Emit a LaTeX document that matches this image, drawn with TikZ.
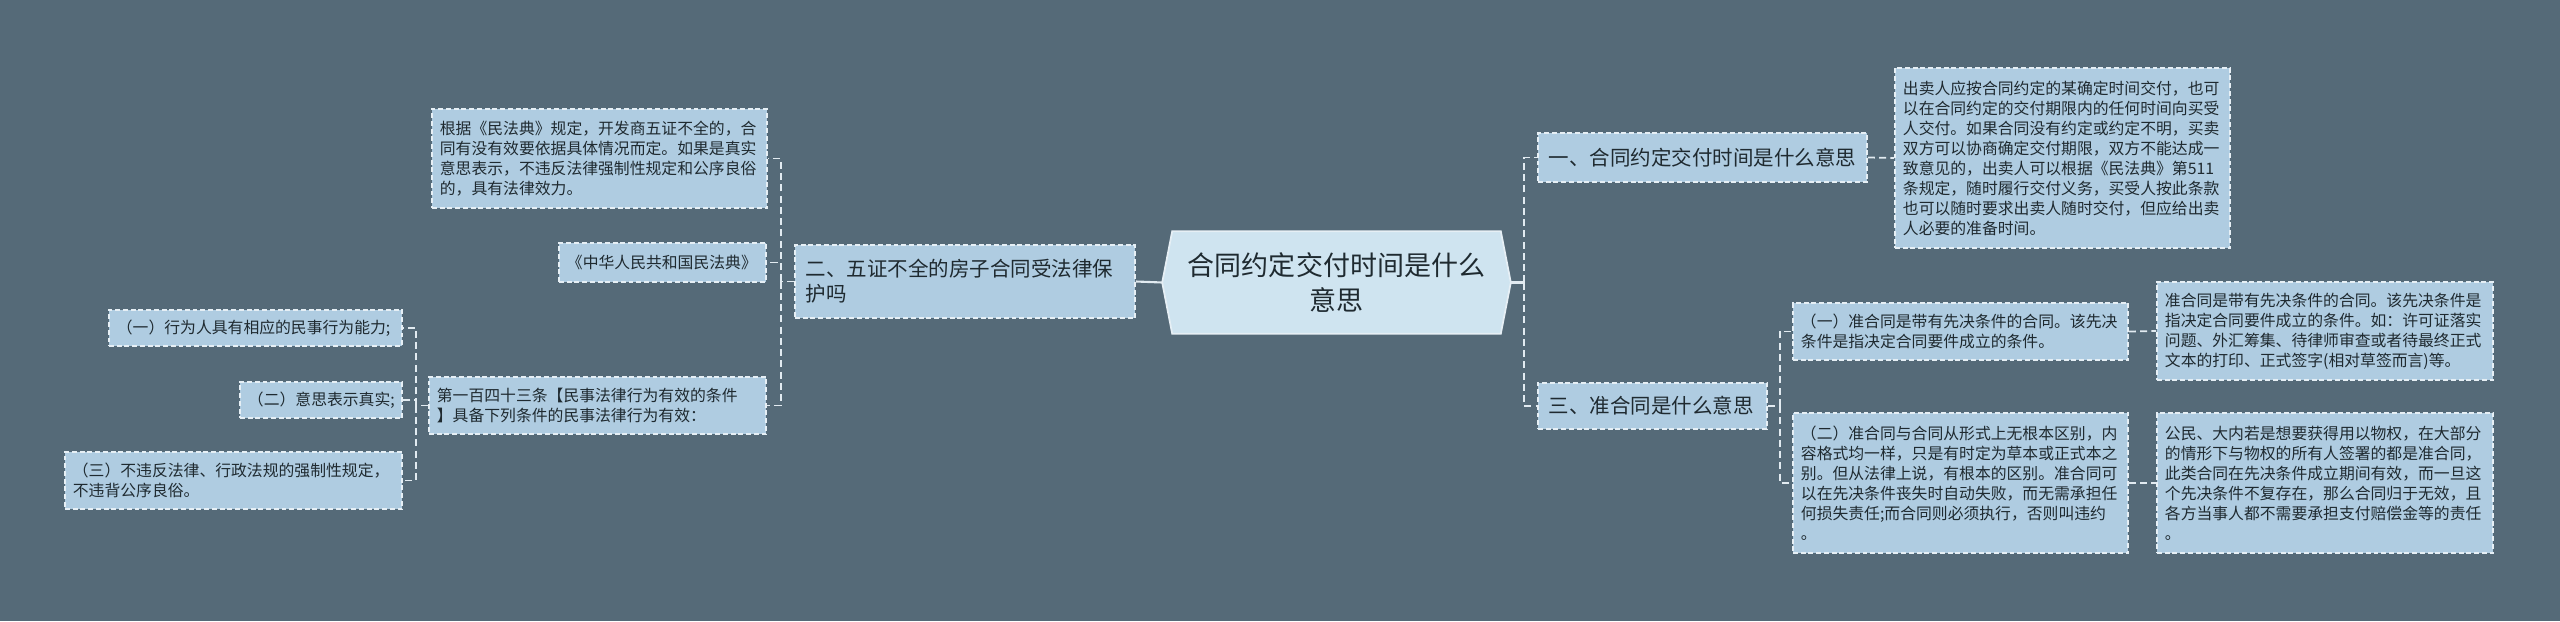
\documentclass[tikz,border=0pt]{standalone}
\usepackage{fontspec}
\setmainfont{Noto Sans CJK SC}
\usetikzlibrary{backgrounds,calc}
\definecolor{bgc}{HTML}{556A78}
\definecolor{nfill}{HTML}{AFCCE1}
\definecolor{cfill}{HTML}{CFE4F0}
\definecolor{edgec}{HTML}{E6EFF5}
\definecolor{txt}{HTML}{1F2A30}
\definecolor{connc}{HTML}{E2EBF1}
\begin{document}
\begin{tikzpicture}[x=0.01cm,y=-0.01cm,
  box/.style={draw=edgec, line width=0.4pt, dash pattern=on 1.4pt off 0.8pt, fill=nfill, text=txt, inner ysep=0pt, align=left, anchor=center},
  sbox/.style 2 args={box, inner xsep=0.08cm, font=\fontsize{4.5pt}{5.69pt}\selectfont, text width=#1, minimum height=#2},
  mbox/.style 2 args={box, inner xsep=0.11cm, font=\fontsize{5.83pt}{7.11pt}\selectfont, text width=#1, minimum height=#2},
  cnode/.style={text=txt, align=center, inner sep=0pt, minimum width=3.27cm, minimum height=1.01cm, font=\fontsize{7.68pt}{9.96pt}\selectfont},
  link/.style={draw=connc, line width=0.5pt, dash pattern=on 2pt off 1.2pt},
  solidlink/.style={draw=connc, line width=0.6pt}
]
\useasboundingbox (0,0) rectangle (2560,621);

% center
\node[cnode] (C) at (1336.5,282.5) {合同约定交付时间是什么\\意思};

% left branch
\node[mbox={3.18cm}{0.73cm}] (L) at (965,281.5) {二、五证不全的房子合同受法律保\\护吗};
\node[sbox={3.19cm}{0.99cm}] (L1) at (599.5,158.5) {根据《民法典》规定，开发商五证不全的，合\\同有没有效要依据具体情况而定。如果是真实\\意思表示，不违反法律强制性规定和公序良俗\\的，具有法律效力。};
\node[sbox={1.91cm}{0.39cm}] (L2) at (662.5,262.5) {《中华人民共和国民法典》};
\node[sbox={3.21cm}{0.57cm}] (L3) at (597.5,405.5) {第一百四十三条【民事法律行为有效的条件\\】具备下列条件的民事法律行为有效：};
\node[sbox={2.77cm}{0.36cm}] (L3a) at (255.5,328) {（一）行为人具有相应的民事行为能力;};
\node[sbox={1.46cm}{0.36cm}] (L3b) at (321,400) {（二）意思表示真实;};
\node[sbox={3.21cm}{0.57cm}] (L3c) at (233.5,480.5) {（三）不违反法律、行政法规的强制性规定，\\不违背公序良俗。};

% right branch
\node[mbox={3.07cm}{0.49cm}] (N1) at (1702.5,157.5) {一、合同约定交付时间是什么意思};
\node[sbox={3.19cm}{1.80cm}] (N1d) at (2062.5,158) {出卖人应按合同约定的某确定时间交付，也可\\以在合同约定的交付期限内的任何时间向买受\\人交付。如果合同没有约定或约定不明，买卖\\双方可以协商确定交付期限，双方不能达成一\\致意见的，出卖人可以根据《民法典》第511\\条规定，随时履行交付义务，买受人按此条款\\也可以随时要求出卖人随时交付，但应给出卖\\人必要的准备时间。};
\node[mbox={2.07cm}{0.46cm}] (N3) at (1652.5,406) {三、准合同是什么意思};
\node[sbox={3.19cm}{0.57cm}] (N3a) at (1960.5,331.5) {（一）准合同是带有先决条件的合同。该先决\\条件是指决定合同要件成立的条件。};
\node[sbox={3.20cm}{0.98cm}] (N3ad) at (2325,331) {准合同是带有先决条件的合同。该先决条件是\\指决定合同要件成立的条件。如：许可证落实\\问题、外汇筹集、待律师审查或者待最终正式\\文本的打印、正式签字(相对草签而言)等。};
\node[sbox={3.19cm}{1.40cm}] (N3b) at (1960.5,483) {（二）准合同与合同从形式上无根本区别，内\\容格式均一样，只是有时定为草本或正式本之\\别。但从法律上说，有根本的区别。准合同可\\以在先决条件丧失时自动失败，而无需承担任\\何损失责任;而合同则必须执行，否则叫违约\\。};
\node[sbox={3.20cm}{1.40cm}] (N3bd) at (2325,483) {公民、大内若是想要获得用以物权，在大部分\\的情形下与物权的所有人签署的都是准合同，\\此类合同在先决条件成立期间有效，而一旦这\\个先决条件不复存在，那么合同归于无效，且\\各方当事人都不需要承担支付赔偿金等的责任\\。};

% background and hexagon
\begin{scope}[on background layer]
\fill[bgc] (0,0) rectangle (2560,621);
\filldraw[fill=cfill, draw=edgec, line width=0.5pt] (C.north west) -- (C.north east) -- ([xshift=0.1cm]C.east) -- (C.south east) -- (C.south west) -- ([xshift=-0.1cm]C.west) -- cycle;
\end{scope}

% connector coordinates
\coordinate (cE) at ([xshift=0.1cm]C.east);
\coordinate (cW) at ([xshift=-0.1cm]C.west);
\coordinate (trR) at (1524,282.5);
\coordinate (trL) at (781,281.5);
\coordinate (trL3) at (416,405.5);
\coordinate (trN3) at (1780,406);

% connectors
\draw[solidlink] (cW) -- (L.east);
\draw[solidlink] (cE) -- (trR);
\draw[link] (trR) |- (N1.west);
\draw[link] (trR) |- (N3.west);
\draw[link] (N1.east) -- (N1d.west);
\draw[link] (N3.east) -- (trN3);
\draw[link] (trN3) |- (N3a.west);
\draw[link] (trN3) |- (N3b.west);
\draw[link] (N3a.east) -- (N3ad.west);
\draw[link] (N3b.east) -- (N3bd.west);
\draw[link] (L.west) -- (trL);
\draw[link] (trL) |- (L1.east);
\draw[link] (trL) |- (L2.east);
\draw[link] (trL) |- (L3.east);
\draw[link] (L3.west) -- (trL3);
\draw[link] (trL3) |- (L3a.east);
\draw[link] (trL3) |- (L3b.east);
\draw[link] (trL3) |- (L3c.east);
\end{tikzpicture}
\end{document}
